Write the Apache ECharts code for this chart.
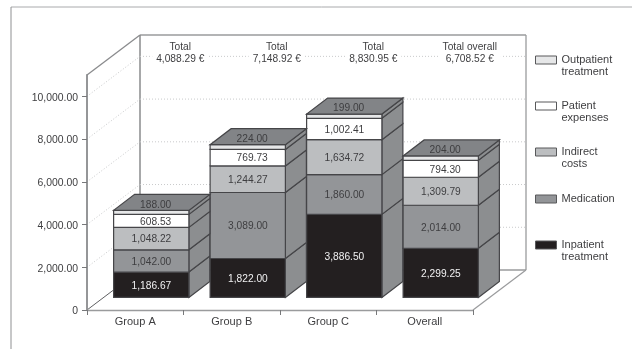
<!DOCTYPE html>
<html>
<head>
<meta charset="utf-8">
<style>html,body{margin:0;padding:0;background:#fff}#chart{width:632px;height:349px}</style>
<script src="https://cdn.jsdelivr.net/npm/echarts@6/dist/echarts.min.js"></script>
</head>
<body>
<div id="chart"></div>
<script>
// Treatment cost per patient, by study group (stacked, bottom to top)
const categories = ['Group A', 'Group B', 'Group C', 'Overall'];
const inpatient  = [1186.67, 1822.00, 3886.50, 2299.25];
const medication = [1042.00, 3089.00, 1860.00, 2014.00];
const indirect   = [1048.22, 1244.27, 1634.72, 1309.79];
const patient    = [608.53, 769.73, 1002.41, 794.30];
const outpatient = [188.00, 224.00, 199.00, 204.00];
const totals      = ['4,088.29 €', '7,148.92 €', '8,830.95 €', '6,708.52 €'];
const totalTitles = ['Total', 'Total', 'Total', 'Total overall'];
const yTicks = [0, 2000, 4000, 6000, 8000, 10000];

const FONT = '"Liberation Sans", Arial, sans-serif';
const INK = '#3e3e40';
const EDGE = '#454548';
const FRAME = '#8a8b8d';
const DOT = '#c9cacb';

// Oblique projection: room depth, bar floor offset, bar depth
const ROOM = [53, -40];
const FLOOR = [16, -12.6];
const DEPTH = [21, -16];

const layers = [
  { name: 'Inpatient treatment',  values: inpatient,  color: '#231f20', text: '#f1f1f2', legendY: 245 },
  { name: 'Medication',           values: medication, color: '#939598', text: INK,       legendY: 199 },
  { name: 'Indirect costs',       values: indirect,   color: '#bcbec0', text: INK,       legendY: 152 },
  { name: 'Patient expenses',     values: patient,    color: '#ffffff', text: INK,       legendY: 106 },
  { name: 'Outpatient treatment', values: outpatient, color: '#e6e7e8', text: INK,       legendY: 60 }
];

const fmt = v => v.toLocaleString('en-US', { minimumFractionDigits: 2, maximumFractionDigits: 2 });

function poly(points, fill, stroke, width) {
  return { type: 'polygon', shape: { points }, style: { fill, stroke: stroke || EDGE, lineWidth: width || 1.2 } };
}
function line(a, b, stroke, width, dash) {
  return {
    type: 'line',
    shape: { x1: a[0], y1: a[1], x2: b[0], y2: b[1] },
    style: { stroke, lineWidth: width, lineDash: dash || null, fill: null }
  };
}

// Room shell and the dotted gridlines on its two walls
function renderRoom(params, api) {
  const r = params.coordSys;
  const v = api.value(0);
  const y = api.coord([0, v])[1];
  const L = r.x, R = r.x + r.width, B = r.y + r.height, T = r.y;
  const els = [];
  if (v > 0) {
    els.push(line([L, y], [L + ROOM[0], y + ROOM[1]], DOT, 1, [1, 2]));
    els.push(line([L + ROOM[0], y + ROOM[1]], [R + ROOM[0], y + ROOM[1]], DOT, 1, [1, 2]));
  }
  if (params.dataIndex === 0) {
    const bx = L + ROOM[0], by = B + ROOM[1], tx = bx, ty = T + ROOM[1], rx = R + ROOM[0];
    els.push(line([L, T], [tx, ty], FRAME, 1.3));
    els.push(line([tx, ty], [rx, ty], '#9a9b9d', 1.3));
    els.push(line([tx, ty], [bx, by], FRAME, 1.5));
    els.push(line([rx, ty], [rx, by], '#9a9b9d', 1.3));
    els.push(line([bx, by], [rx, by], '#9a9b9d', 1.3));
    els.push(line([L, B], [bx, by], '#5f6062', 1));
    els.push(line([R, B], [rx, by], '#9a9b9d', 1.2));
  }
  return { type: 'group', children: els };
}

// Total captions sitting across the top wall gridline
function renderTotal(params, api) {
  const i = api.value(0);
  const center = api.coord([i, 0])[0];
  const top = params.coordSys.y + ROOM[1];
  return {
    type: 'text',
    style: {
      x: center + 45, y: top + 18.5,
      text: totalTitles[i] + '\n' + totals[i],
      font: '10.2px ' + FONT, fill: INK, lineHeight: 12,
      align: 'center', verticalAlign: 'middle',
      backgroundColor: '#fff', padding: [0, 4]
    }
  };
}

// One stacked segment: front face, side face, optional top face, value text
function segmentRenderer(layer, isTop) {
  return function (params, api) {
    const i = api.value(0);
    const base = api.value(1), top = api.value(2);
    const center = api.coord([i, 0])[0] + FLOOR[0];
    const half = api.size([1, 0])[0] * 0.39;
    const yBase = api.coord([i, base])[1] + FLOOR[1];
    const yTop = api.coord([i, top])[1] + FLOOR[1];
    const x0 = center - half, x1 = center + half;
    const dx = DEPTH[0], dy = DEPTH[1];
    const kids = [
      poly([[x1, yBase], [x1 + dx, yBase + dy], [x1 + dx, yTop + dy], [x1, yTop]], '#8c8e90'),
      poly([[x0, yBase], [x1, yBase], [x1, yTop], [x0, yTop]], layer.color)
    ];
    if (isTop) {
      kids.push(poly([[x0, yTop], [x1, yTop], [x1 + dx, yTop + dy], [x0 + dx, yTop + dy]], '#828487'));
    }
    kids.push({
      type: 'text',
      style: {
        x: center + 20,
        y: isTop ? yTop - 5.5 : (yBase + yTop) / 2 + 1,
        text: fmt(api.value(2) - api.value(1)),
        font: '10.2px ' + FONT, fill: layer.text,
        align: 'right', verticalAlign: 'middle'
      }
    });
    return { type: 'group', children: kids };
  };
}

// Cumulative stack bounds for each layer
const running = categories.map(() => 0);
const barSeries = layers.map((layer, k) => ({
  type: 'custom',
  name: layer.name,
  coordinateSystem: 'cartesian2d',
  z: 5,
  renderItem: segmentRenderer(layer, k === layers.length - 1),
  encode: { x: 0, y: [1, 2] },
  data: categories.map((_, i) => {
    const from = running[i];
    running[i] += layer.values[i];
    return [i, from, running[i]];
  })
}));

// A leading blank line lines the first word of two-word names up with the swatch
const legends = layers.map(layer => {
  const twoLines = layer.name.indexOf(' ') > 0;
  return {
    left: 535, top: layer.legendY - (twoLines ? 18 : 6),
    orient: 'vertical', padding: 0,
    itemWidth: 21, itemHeight: 8, icon: 'rect',
    selectedMode: false,
    formatter: n => (twoLines ? '\n' + n.replace(' ', '\n') : n),
    textStyle: { fontFamily: FONT, fontSize: 11, color: INK, lineHeight: 12 },
    data: [{
      name: layer.name,
      itemStyle: { color: layer.color, borderColor: '#58595b', borderWidth: 1 }
    }]
  };
});

const chart = echarts.init(document.getElementById('chart'), null, { renderer: 'canvas' });
chart.setOption({
  animation: false,
  backgroundColor: '#fff',
  legend: legends,
  grid: { left: 87, right: 159, top: 75, bottom: 39 },
  xAxis: {
    type: 'category',
    data: categories,
    axisLine: { lineStyle: { color: '#9a9b9d', width: 1.3 } },
    axisTick: { show: true, length: 5, lineStyle: { color: '#77787a' } },
    axisLabel: { color: INK, fontFamily: FONT, fontSize: 11, margin: 6 },
    z: 2
  },
  yAxis: {
    type: 'value', min: 0, max: 11000,
    axisLine: { show: true, lineStyle: { color: '#8a8b8d', width: 1.8 } },
    axisTick: { show: true, length: 5, lineStyle: { color: '#77787a' }, customValues: yTicks },
    axisLabel: {
      margin: 9, customValues: yTicks,
      formatter: v => '{n|' + (v === 0 ? '0' : fmt(v)) + '}',
      rich: { n: { color: INK, fontFamily: FONT, fontSize: 10.4, padding: [3, 0, 0, 0] } }
    },
    splitLine: { show: false },
    z: 2
  },
  graphic: [
    // Page frame along the top and left edges
    { type: 'line', shape: { x1: 11, y1: 7, x2: 632, y2: 7 }, style: { stroke: '#a9aaac', lineWidth: 1 }, silent: true },
    { type: 'line', shape: { x1: 11, y1: 7, x2: 11, y2: 349 }, style: { stroke: '#8f9092', lineWidth: 1 }, silent: true }
  ],
  series: [
    { type: 'custom', coordinateSystem: 'cartesian2d', z: 1, renderItem: renderRoom, encode: { y: 0 },
      data: yTicks.map(v => [v]) },
    { type: 'custom', coordinateSystem: 'cartesian2d', z: 3, renderItem: renderTotal, encode: { x: 0 },
      data: categories.map((_, i) => [i]) }
  ].concat(barSeries)
});
</script>
</body>
</html>
